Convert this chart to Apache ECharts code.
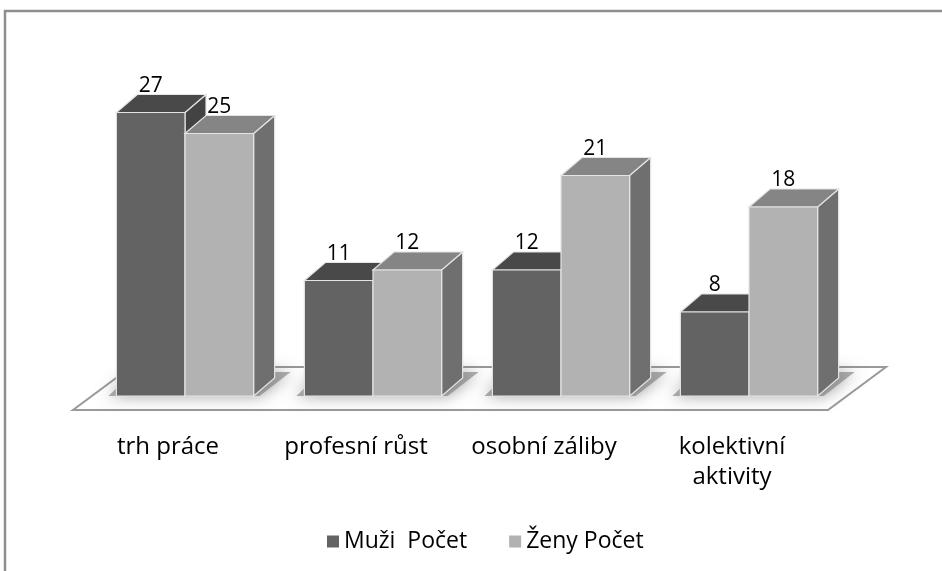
<!DOCTYPE html>
<html>
<head>
<meta charset="utf-8">
<script src="https://cdn.jsdelivr.net/npm/echarts@6/dist/echarts.min.js"></script>
<style>html,body{margin:0;padding:0;background:#fff}#c{width:942px;height:571px}</style>
</head>
<body>
<div id="c"></div>
<script>
const categories = ['trh práce', 'profesní růst', 'osobní záliby', 'kolektivní\naktivity'];
const seriesNames = ['Muži  Počet', 'Ženy Počet'];
const muzi = [27, 11, 12, 8];
const zeny = [25, 12, 21, 18];

const FONT = '"Open Sans", "Noto Sans", sans-serif';
const DX = 21, DY = -18;          // bar depth projection
const BAR_RATIO = 0.365;           // bar width / band width
const COLORS = [
  { front: '#636363', top: '#494949', side: '#434343' },
  { front: '#b2b2b2', top: '#858585', side: '#6f6f6f' }
];
const EDGE = '#e4e4e4';

function barRenderer(idx) {
  return function (params, api) {
    const i = params.dataIndex;
    const v = api.value(1);
    const base = api.coord([i, 0]);
    const top = api.coord([i, v]);
    const bw = api.size([1, 0])[0] * BAR_RATIO;
    const x0 = idx === 0 ? base[0] - bw : base[0];
    const x1 = x0 + bw;
    const yb = base[1], yt = top[1];
    const c = COLORS[idx];
    const st = (fill) => ({ fill: fill, stroke: EDGE, lineWidth: 1.2 });
    return {
      type: 'group',
      children: [
        { type: 'polygon', shape: { points: [[x1, yb], [x1 + DX, yb + DY], [x1 + DX, yt + DY], [x1, yt]] }, style: st(c.side) },
        { type: 'polygon', shape: { points: [[x0, yt], [x1, yt], [x1 + DX, yt + DY], [x0 + DX, yt + DY]] }, style: st(c.top) },
        { type: 'rect', shape: { x: x0, y: yt, width: bw, height: yb - yt }, style: st(c.front) },
        { type: 'text', z2: 10, style: { text: String(v), x: (x0 + x1) / 2, y: yt + DY + 2, align: 'center', verticalAlign: 'bottom', font: '21px ' + FONT, fill: '#000' } }
      ]
    };
  };
}

function floorRenderer(params, api) {
  const n = categories.length;
  const band = api.size([1, 0])[0];
  const first = api.coord([0, 0]);
  const last = api.coord([n - 1, 0]);
  const L = first[0] - band / 2, R = last[0] + band / 2, y0 = first[1];
  const children = [
    { type: 'polygon', shape: { points: [[L - 18, y0 + 14], [R - 15, y0 + 14], [R + 43, y0 - 29], [L + 40, y0 - 29]] },
      style: { fill: '#fff', stroke: '#9a9a9a', lineWidth: 2 } }
  ];
  for (let i = 0; i < n; i++) {
    const c = api.coord([i, 0]);
    const bw = band * BAR_RATIO;
    children.push({ type: 'polygon', shape: { points: [[c[0] - bw - 8, y0], [c[0] + bw + 6, y0], [c[0] + bw + DX + 16, y0 + DY - 6], [c[0] - bw + DX - 4, y0 + DY - 6]] },
      style: { fill: 'rgba(120,120,120,0.6)', shadowBlur: 16, shadowColor: 'rgba(90,90,90,0.95)' } });
  }
  return { type: 'group', children: children };
}

const chart = echarts.init(document.getElementById('c'));
chart.setOption({
  animation: false,
  backgroundColor: '#fff',
  graphic: [{ type: 'rect', shape: { x: 5, y: 11, width: 1200, height: 1200 }, style: { fill: 'none', stroke: '#8e8e8e', lineWidth: 2.5 }, z: -1 }],
  grid: { left: 91, right: 99, top: 81, bottom: 175 },
  legend: {
    left: 327, top: 530, padding: 0, itemWidth: 12, itemHeight: 12, itemGap: 42, icon: 'rect',
    textStyle: { fontFamily: FONT, fontSize: 23, color: '#000' },
    data: seriesNames
  },
  xAxis: {
    type: 'category', data: categories,
    axisLine: { show: false }, axisTick: { show: false }, splitLine: { show: false },
    axisLabel: { margin: 36, fontFamily: FONT, fontSize: 24, color: '#000', lineHeight: 30, padding: [0, 34, 0, 0], interval: 0 }
  },
  yAxis: { type: 'value', min: 0, max: 30, show: false, splitLine: { show: false } },
  series: [
    { type: 'custom', name: 'floor', renderItem: floorRenderer, data: [[0, 0]], silent: true, z: 1 },
    { type: 'custom', name: seriesNames[0], renderItem: barRenderer(0), data: muzi.map((v, i) => [i, v]), itemStyle: { color: COLORS[0].front }, z: 2 },
    { type: 'custom', name: seriesNames[1], renderItem: barRenderer(1), data: zeny.map((v, i) => [i, v]), itemStyle: { color: COLORS[1].front }, z: 3 }
  ]
});
</script>
</body>
</html>
